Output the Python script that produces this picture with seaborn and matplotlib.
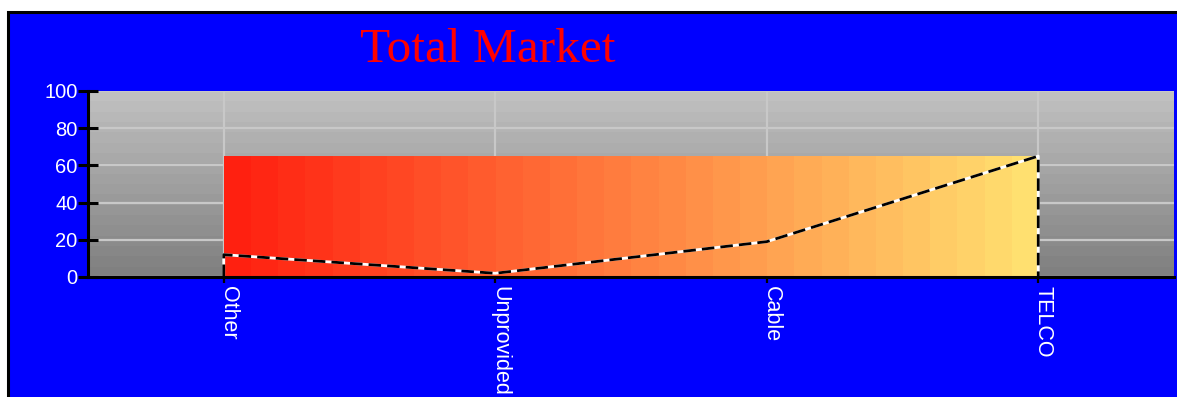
import numpy as np
import pandas as pd
import matplotlib
matplotlib.use("Agg")
import matplotlib.pyplot as plt
import matplotlib.transforms as mtransforms
from matplotlib.patches import Rectangle
import seaborn as sns

# ---- data ----
categories = ["Other", "Unprovided", "Cable", "TELCO"]
values = [12, 2, 19, 65]
y_ticks = [0, 20, 40, 60, 80, 100]
title = "Total Market"

plt.rcParams["font.family"] = ["Liberation Sans", "DejaVu Sans"]

W, H = 1177, 397
fig = plt.figure(figsize=(W / 100, H / 100), dpi=100)
fig.patch.set_facecolor("white")

# blue panel with black frame, running off the right and bottom edges
fig.patches.append(Rectangle((7.5 / W, -0.05), 1.1, 1 - 11.5 / H + 0.05,
                             transform=fig.transFigure, facecolor="#0000ff",
                             edgecolor="black", linewidth=2.2, zorder=-5))

ax = fig.add_axes([88 / W, (H - 277) / H, (1174 - 88) / W, 186 / H])
ax.set_zorder(2)
ax.set_facecolor("none")

n = len(categories)
xpos = np.arange(n)

# stepped grey background, light at the top and dark at the bottom
rows = 18
grey = np.linspace(192, 128, rows)[:, None] / 255.0
grey_img = np.repeat(grey[:, :, None], 3, axis=2)
ax.imshow(grey_img, extent=(-0.5, n - 0.5, 0, 100), aspect="auto",
          interpolation="nearest", zorder=0)

# stepped red-to-yellow band spanning the categories up to the peak value
cols = 30
t = np.linspace(0, 1, cols)
c0 = np.array([255, 32, 16]) / 255.0
c1 = np.array([255, 224, 112]) / 255.0
band = (c0[None, :] * (1 - t[:, None]) + c1[None, :] * t[:, None])[None, :, :]
ax.imshow(band, extent=(xpos[0], xpos[-1], 0, max(values)), aspect="auto",
          interpolation="nearest", zorder=1.8)

# grid
ax.set_axisbelow("line")
ax.grid(True, color="#c8c8c8", linewidth=1.6)

# area outline: drop to zero at both ends
outline = pd.DataFrame({
    "x": np.concatenate([[xpos[0]], xpos, [xpos[-1]]]),
    "y": np.concatenate([[0], values, [0]]),
})
sns.lineplot(data=outline, x="x", y="y", sort=False, estimator=None,
             color="white", linewidth=2.0, ax=ax, zorder=3)
sns.lineplot(data=outline, x="x", y="y", sort=False, estimator=None,
             color="black", linewidth=2.0, ax=ax, zorder=3.1)
ax.lines[-1].set_dashes((4.5, 2.2))
ax.lines[-1].set_dash_capstyle("butt")

ax.set_xlim(-0.5, n - 0.5)
ax.set_ylim(0, 100)

# axes styling
for s in ("top", "right"):
    ax.spines[s].set_visible(False)
for s in ("left", "bottom"):
    ax.spines[s].set_color("black")
    ax.spines[s].set_linewidth(2.2)
    ax.spines[s].set_zorder(4)

ax.set_yticks(y_ticks)
ax.set_yticklabels([str(v) for v in y_ticks])
ax.set_xticks(xpos)
ax.set_xticklabels(categories, rotation=-90, ha="left", va="top")
ax.tick_params(axis="y", direction="inout", length=15, width=2.2,
               color="black", labelcolor="white", labelsize=14.5, pad=0)
ax.tick_params(axis="x", direction="inout", length=9, width=1.6,
               color="black", labelcolor="white", labelsize=15.5, pad=2)
shift = mtransforms.ScaledTranslation(-6 / 100, 0, fig.dpi_scale_trans)
for lab in ax.get_xticklabels():
    lab.set_transform(lab.get_transform() + shift)
ax.set_xlabel("")
ax.set_ylabel("")

fig.text(360 / W, 1 - 62 / H, title, color="red", fontsize=35.5,
         family=["Liberation Serif", "DejaVu Serif"], ha="left",
         va="baseline")

fig.savefig("out.png", dpi=100, facecolor=fig.get_facecolor())
